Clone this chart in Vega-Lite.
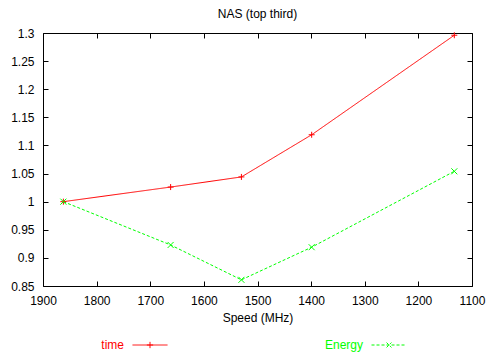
{
  "$schema": "https://vega.github.io/schema/vega-lite/v6.json",
  "autosize": "none",
  "width": 429,
  "height": 253,
  "padding": {"left": 43, "top": 33, "right": 17, "bottom": 72},
  "background": "white",
  "config": {
    "font": "Liberation Sans",
    "view": {"stroke": "black", "strokeWidth": 1},
    "axis": {"grid": false, "domain": false, "tickColor": "black", "tickSize": -5, "labelFont": "Liberation Sans", "labelFontSize": 12, "labelColor": "black", "titleFont": "Liberation Sans", "titleFontSize": 12, "titleFontWeight": "normal", "titleColor": "black"},
    "title": {"font": "Liberation Sans", "fontSize": 12, "fontWeight": "normal", "color": "black"}
  },
  "title": {"text": "NAS (top third)", "offset": 6},
  "data": {"values": [
    {"speed": 1862, "series": "time", "value": 1.0},
    {"speed": 1662, "series": "time", "value": 1.026},
    {"speed": 1530, "series": "time", "value": 1.044},
    {"speed": 1399, "series": "time", "value": 1.119},
    {"speed": 1133, "series": "time", "value": 1.296},
    {"speed": 1862, "series": "Energy", "value": 1.0},
    {"speed": 1662, "series": "Energy", "value": 0.923},
    {"speed": 1530, "series": "Energy", "value": 0.861},
    {"speed": 1399, "series": "Energy", "value": 0.919},
    {"speed": 1133, "series": "Energy", "value": 1.054}
  ]},
  "resolve": {"axis": {"x": "independent", "y": "independent"}},
  "layer": [
    {
      "mark": {"type": "line", "strokeWidth": 1, "clip": true},
      "encoding": {
        "x": {"field": "speed", "type": "quantitative", "scale": {"domain": [1100, 1900], "reverse": true, "nice": false, "zero": false},
              "axis": {"values": [1900, 1800, 1700, 1600, 1500, 1400, 1300, 1200, 1100], "format": "d", "title": "Speed (MHz)", "labelPadding": 14, "titlePadding": 6, "labelFlush": false}},
        "y": {"field": "value", "type": "quantitative", "scale": {"domain": [0.85, 1.3], "nice": false, "zero": false},
              "axis": {"values": [0.85, 0.9, 0.95, 1, 1.05, 1.1, 1.15, 1.2, 1.25, 1.3], "format": "~g", "title": null, "labelPadding": 14, "labelFlush": false}},
        "color": {"field": "series", "type": "nominal", "scale": {"domain": ["time", "Energy"], "range": ["#ff0000", "#00ff00"]},
          "legend": {
            "orient": "none", "legendX": 89, "legendY": 294, "direction": "horizontal", "title": null, "padding": 0,
            "columnPadding": 154, "symbolType": "stroke", "symbolSize": 1225, "symbolStrokeWidth": 1,
            "labelAlign": "right", "labelOffset": -44, "symbolOffset": 0, "labelFont": "Liberation Sans", "labelFontSize": 12,
            "encode": {
              "labels": {"update": {"fill": {"signal": "datum.value === 'time' ? '#ff0000' : '#00ff00'"}}},
              "symbols": {"update": {"fill": {"value": "transparent"}, "shape": {"signal": "datum.value === 'time' ? 'M-1,0H1M0,-0.18V0.18M-0.18,0H0.18' : 'M-1,0H1M-0.14,-0.14L0.14,0.14M-0.14,0.14L0.14,-0.14'"}}}
            }
          }},
        "strokeDash": {"field": "series", "type": "nominal", "scale": {"domain": ["time", "Energy"], "range": [[1, 0], [3, 2]]}, "legend": null}
      }
    },
    {
      "transform": [{"filter": "datum.series === 'time'"}],
      "mark": {"type": "point", "filled": false, "strokeWidth": 1, "opacity": 1, "size": 36, "shape": "M-1,0H1M0,-1V1", "color": "#ff0000"},
      "encoding": {
        "x": {"field": "speed", "type": "quantitative", "axis": {"orient": "top", "values": [1900, 1800, 1700, 1600, 1500, 1400, 1300, 1200, 1100], "labels": false, "title": null}},
        "y": {"field": "value", "type": "quantitative", "axis": {"orient": "right", "values": [0.85, 0.9, 0.95, 1, 1.05, 1.1, 1.15, 1.2, 1.25, 1.3], "labels": false, "title": null}}
      }
    },
    {
      "transform": [{"filter": "datum.series === 'Energy'"}],
      "mark": {"type": "point", "filled": false, "strokeWidth": 1, "opacity": 1, "size": 36, "shape": "M-1,-1L1,1M-1,1L1,-1", "color": "#00ff00"},
      "encoding": {
        "x": {"field": "speed", "type": "quantitative", "axis": null},
        "y": {"field": "value", "type": "quantitative", "axis": null}
      }
    }
  ]
}
